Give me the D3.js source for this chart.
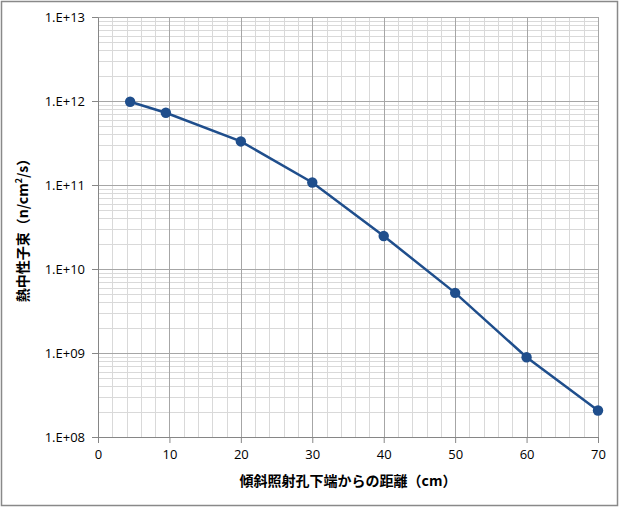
<!DOCTYPE html>
<html lang="ja">
<head>
<meta charset="UTF-8">
<title>熱中性子束</title>
<script src="https://d3js.org/d3.v7.min.js"></script>
<style>
    body {
        margin: 0;
        padding: 0;
        background: #fff;
    }
    #chart text {
        font-family: "Open Sans", "Noto Sans", sans-serif;
        fill: #000;
    }
    #chart .title {
        font-family: "Noto Sans CJK JP", sans-serif;
        font-weight: bold;
    }
</style>
</head>
<body>
<div id="chart"></div>
<script>
    // 傾斜照射孔下端からの距離 (cm) と 熱中性子束 (n/cm2/s)
    const distance = [4.5, 9.5, 20, 30, 40, 50, 60, 70];
    const flux = [9.8e11, 7.25e11, 3.3e11, 1.07e11, 2.47e10, 5.2e9, 8.9e8, 2.07e8];

    const xTicks = [0, 10, 20, 30, 40, 50, 60, 70];
    const yTicks = [1e8, 1e9, 1e10, 1e11, 1e12, 1e13];

    const width = 620, height = 508;
    const margin = { top: 17, right: 22, bottom: 71, left: 98 };
    const plotW = width - margin.left - margin.right;
    const plotH = height - margin.top - margin.bottom;

    const x = d3.scaleLinear().domain([0, 70]).range([0, plotW]);
    const y = d3.scaleLog().domain([1e8, 1e13]).range([plotH, 0]);

    const svg = d3.select("#chart")
        .append("svg")
        .attr("width", width)
        .attr("height", height);

    // chart border
    svg.append("rect")
        .attr("x", 1.5)
        .attr("y", 1.5)
        .attr("width", width - 4)
        .attr("height", height - 4)
        .attr("fill", "#fff")
        .attr("stroke", "#898989")
        .attr("stroke-width", 1.5);

    const g = svg.append("g")
        .attr("transform", `translate(${margin.left},${margin.top})`);

    // minor grid (x every 2, y at 2..9 per decade)
    const xMinor = d3.range(0, 71, 2).filter(v => v % 10 !== 0);
    const yMinor = [];
    yTicks.slice(0, -1).forEach(t => {
        for (let k = 2; k <= 9; k++) yMinor.push(t * k);
    });

    g.append("g").selectAll("line")
        .data(xMinor)
        .enter().append("line")
        .attr("x1", d => Math.round(x(d)) + 0.5)
        .attr("x2", d => Math.round(x(d)) + 0.5)
        .attr("y1", 0)
        .attr("y2", plotH)
        .attr("stroke", "#d9d9d9");

    g.append("g").selectAll("line")
        .data(yMinor)
        .enter().append("line")
        .attr("x1", 0)
        .attr("x2", plotW)
        .attr("y1", d => Math.round(y(d)) + 0.5)
        .attr("y2", d => Math.round(y(d)) + 0.5)
        .attr("stroke", "#d9d9d9");

    // major grid
    g.append("g").selectAll("line")
        .data(xTicks.slice(1))
        .enter().append("line")
        .attr("x1", d => Math.round(x(d)) + 0.5)
        .attr("x2", d => Math.round(x(d)) + 0.5)
        .attr("y1", 0)
        .attr("y2", plotH)
        .attr("stroke", "#a6a6a6");

    g.append("g").selectAll("line")
        .data(yTicks.slice(1))
        .enter().append("line")
        .attr("x1", 0)
        .attr("x2", plotW)
        .attr("y1", d => Math.round(y(d)) + 0.5)
        .attr("y2", d => Math.round(y(d)) + 0.5)
        .attr("stroke", "#a6a6a6");

    // axes
    const xAxis = g.append("g")
        .attr("transform", `translate(0,${plotH})`)
        .call(d3.axisBottom(x).tickValues(xTicks).tickSize(6).tickPadding(7).tickSizeOuter(0));

    const yAxis = g.append("g")
        .call(d3.axisLeft(y).tickValues(yTicks).tickSize(6).tickPadding(7).tickSizeOuter(0)
            .tickFormat(d => "1.E+" + String(Math.round(Math.log10(d))).padStart(2, "0")));

    [xAxis, yAxis].forEach(a => {
        a.selectAll("path, line").attr("stroke", "#868686");
        a.selectAll("text").style("font-size", "13px");
    });

    // series
    const data = distance.map((d, i) => ({ x: d, y: flux[i] }));

    g.append("path")
        .datum(data)
        .attr("fill", "none")
        .attr("stroke", "#1f4e8c")
        .attr("stroke-width", 2.5)
        .attr("d", d3.line().x(d => x(d.x)).y(d => y(d.y)));

    g.selectAll("circle")
        .data(data)
        .enter().append("circle")
        .attr("cx", d => x(d.x))
        .attr("cy", d => y(d.y))
        .attr("r", 5.2)
        .attr("fill", "#1f4e8c");

    // axis titles
    svg.append("text")
        .attr("class", "title")
        .attr("x", margin.left + plotW / 2)
        .attr("y", 486)
        .attr("text-anchor", "middle")
        .style("font-size", "14px")
        .text("傾斜照射孔下端からの距離（cm）");

    svg.append("text")
        .attr("class", "title")
        .attr("transform", `translate(28,${margin.top + plotH / 2}) rotate(-90)`)
        .attr("text-anchor", "middle")
        .style("font-size", "14px")
        .html("熱中性子束（n/cm<tspan baseline-shift='super' font-size='9px'>2</tspan>/s）");
</script>
</body>
</html>
